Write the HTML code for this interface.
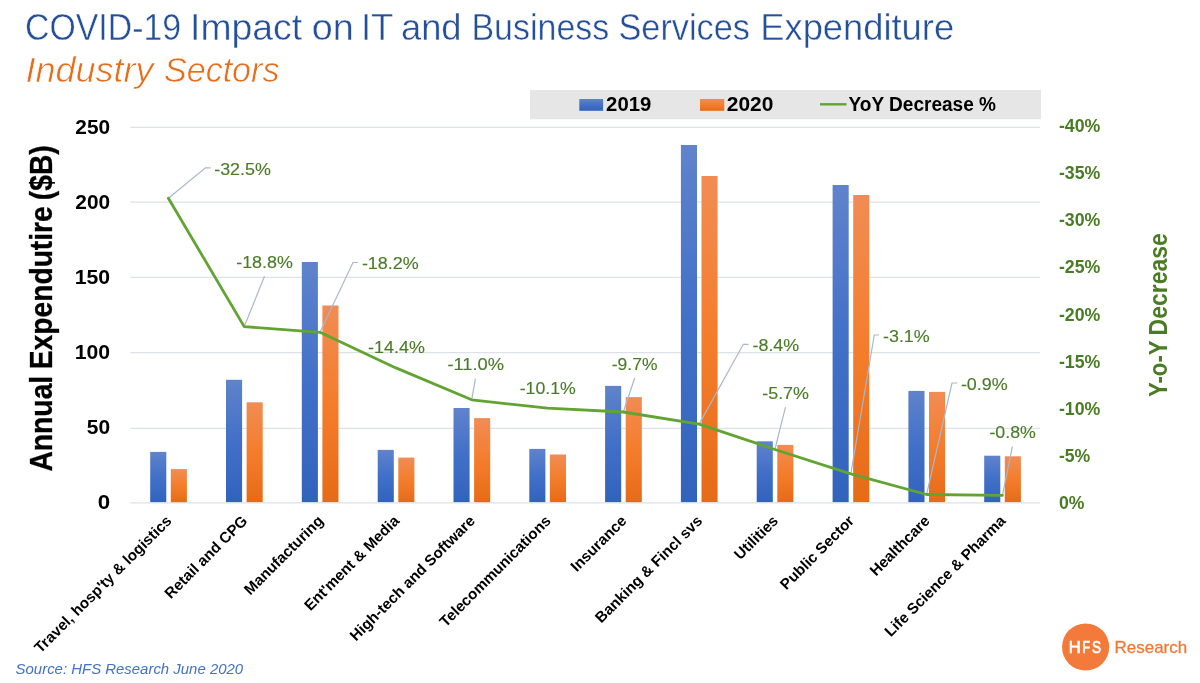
<!DOCTYPE html>
<html lang="en">
<head>
<meta charset="utf-8">
<title>COVID-19 Impact on IT and Business Services Expenditure</title>
<style>
html,body{margin:0;padding:0;background:#fff;}
body{width:1200px;height:683px;overflow:hidden;}
svg{display:block;font-family:"Liberation Sans", sans-serif;will-change:transform;}
</style>
</head>
<body>
<svg width="1200" height="683" viewBox="0 0 1200 683">
<defs>
<linearGradient id="gb" x1="0" y1="0" x2="0" y2="1"><stop offset="0" stop-color="#6083CB"/><stop offset="0.5" stop-color="#4170C8"/><stop offset="1" stop-color="#3263BC"/></linearGradient>
<linearGradient id="go" x1="0" y1="0" x2="0" y2="1"><stop offset="0" stop-color="#F18C54"/><stop offset="0.5" stop-color="#F47D2C"/><stop offset="1" stop-color="#E66B17"/></linearGradient>
</defs>
<rect width="1200" height="683" fill="#fff"/>
<text y="39.9" font-size="36.5" fill="#244F99" stroke="#fff" stroke-width="0.45"><tspan x="25.03" textLength="156.07" lengthAdjust="spacingAndGlyphs">COVID-19</tspan> <tspan x="190.06" textLength="111.97" lengthAdjust="spacingAndGlyphs">Impact</tspan> <tspan x="311.66" textLength="42.04" lengthAdjust="spacingAndGlyphs">on</tspan> <tspan x="360.94" textLength="31.88" lengthAdjust="spacingAndGlyphs">IT</tspan> <tspan x="400.96" textLength="60.64" lengthAdjust="spacingAndGlyphs">and</tspan> <tspan x="471.46" textLength="137.76" lengthAdjust="spacingAndGlyphs">Business</tspan> <tspan x="618.44" textLength="131.55" lengthAdjust="spacingAndGlyphs">Services</tspan> <tspan x="760.27" textLength="193.84" lengthAdjust="spacingAndGlyphs">Expenditure</tspan></text>
<text y="82.3" font-size="35" font-style="italic" fill="#E66E1A" stroke="#fff" stroke-width="0.6"><tspan x="25.58" textLength="127.91" lengthAdjust="spacingAndGlyphs">Industry</tspan> <tspan x="164.04" textLength="115.36" lengthAdjust="spacingAndGlyphs">Sectors</tspan></text>
<rect x="530" y="90" width="511" height="29.3" fill="#E7E6E6"/>
<rect x="579.3" y="99" width="23.8" height="11.8" fill="url(#gb)"/>
<rect x="700" y="99" width="24.3" height="11.8" fill="url(#go)"/>
<line x1="820" y1="104.3" x2="846.5" y2="104.3" stroke="#62A432" stroke-width="2.4"/>
<g font-size="19.5" font-weight="bold" fill="#000">
<text x="606.10" y="110.8" textLength="45.16" lengthAdjust="spacingAndGlyphs">2019</text>
<text x="726.77" y="110.8" textLength="46.58" lengthAdjust="spacingAndGlyphs">2020</text>
<text x="848.48" y="110.8" textLength="147.52" lengthAdjust="spacingAndGlyphs">YoY Decrease %</text>
</g>
<g stroke="#DDE2E9" stroke-width="1.3">
<line x1="130.3" y1="502.8" x2="1040.1" y2="502.8"/>
<line x1="130.3" y1="428.3" x2="1040.1" y2="428.3"/>
<line x1="130.3" y1="352.6" x2="1040.1" y2="352.6"/>
<line x1="130.3" y1="277.3" x2="1040.1" y2="277.3"/>
<line x1="130.3" y1="202.2" x2="1040.1" y2="202.2"/>
<line x1="130.3" y1="127.3" x2="1040.1" y2="127.3"/>
</g>
<g font-size="20" font-weight="bold" fill="#000">
<text x="97.82" y="509.2" textLength="12.40" lengthAdjust="spacingAndGlyphs">0</text>
<text x="86.86" y="434.1" textLength="23.30" lengthAdjust="spacingAndGlyphs">50</text>
<text x="74.76" y="359.0" textLength="35.41" lengthAdjust="spacingAndGlyphs">100</text>
<text x="74.76" y="283.9" textLength="35.41" lengthAdjust="spacingAndGlyphs">150</text>
<text x="75.38" y="208.8" textLength="34.78" lengthAdjust="spacingAndGlyphs">200</text>
<text x="75.38" y="133.7" textLength="34.78" lengthAdjust="spacingAndGlyphs">250</text>
</g>
<g font-size="18.2" font-weight="bold" fill="#4A7C24">
<text x="1058.90" y="508.7" textLength="25.46" lengthAdjust="spacingAndGlyphs">0%</text>
<text x="1058.91" y="461.6" textLength="31.35" lengthAdjust="spacingAndGlyphs">-5%</text>
<text x="1058.91" y="414.6" textLength="41.46" lengthAdjust="spacingAndGlyphs">-10%</text>
<text x="1058.91" y="367.5" textLength="41.46" lengthAdjust="spacingAndGlyphs">-15%</text>
<text x="1058.91" y="320.5" textLength="41.46" lengthAdjust="spacingAndGlyphs">-20%</text>
<text x="1058.91" y="273.4" textLength="41.46" lengthAdjust="spacingAndGlyphs">-25%</text>
<text x="1058.91" y="226.3" textLength="41.46" lengthAdjust="spacingAndGlyphs">-30%</text>
<text x="1058.91" y="179.3" textLength="41.46" lengthAdjust="spacingAndGlyphs">-35%</text>
<text x="1058.91" y="132.2" textLength="41.46" lengthAdjust="spacingAndGlyphs">-40%</text>
</g>
<text transform="translate(51.9,0) rotate(-90)" font-size="30.5" font-weight="bold" fill="#000" stroke="#000" stroke-width="0.3"><tspan x="-471.60" textLength="95.81" lengthAdjust="spacingAndGlyphs">Annual</tspan> <tspan x="-369.19" textLength="162.95" lengthAdjust="spacingAndGlyphs">Expendutire</tspan> <tspan x="-200.21" textLength="54.91" lengthAdjust="spacingAndGlyphs">($B)</tspan></text>
<text transform="translate(1167.1,0) rotate(-90)" font-size="25.3" font-weight="bold" fill="#4A7C24"><tspan x="-397.07" textLength="56.21" lengthAdjust="spacingAndGlyphs">Y-o-Y</tspan> <tspan x="-335.38" textLength="102.07" lengthAdjust="spacingAndGlyphs">Decrease</tspan></text>
<rect x="150.2" y="451.9" width="16.1" height="50.2" fill="url(#gb)"/>
<rect x="170.8" y="469.1" width="16.1" height="33.1" fill="url(#go)"/>
<rect x="226.0" y="379.8" width="16.1" height="122.3" fill="url(#gb)"/>
<rect x="246.6" y="402.3" width="16.1" height="99.8" fill="url(#go)"/>
<rect x="301.8" y="262.0" width="16.1" height="240.1" fill="url(#gb)"/>
<rect x="322.4" y="305.5" width="16.1" height="196.6" fill="url(#go)"/>
<rect x="377.7" y="449.9" width="16.1" height="52.2" fill="url(#gb)"/>
<rect x="398.3" y="457.6" width="16.1" height="44.5" fill="url(#go)"/>
<rect x="453.5" y="408.0" width="16.1" height="94.1" fill="url(#gb)"/>
<rect x="474.1" y="418.1" width="16.1" height="84.1" fill="url(#go)"/>
<rect x="529.3" y="448.9" width="16.1" height="53.2" fill="url(#gb)"/>
<rect x="549.9" y="454.5" width="16.1" height="47.6" fill="url(#go)"/>
<rect x="605.1" y="385.9" width="16.1" height="116.2" fill="url(#gb)"/>
<rect x="625.7" y="397.1" width="16.1" height="105.1" fill="url(#go)"/>
<rect x="680.9" y="145.0" width="16.1" height="357.1" fill="url(#gb)"/>
<rect x="701.5" y="176.0" width="16.1" height="326.1" fill="url(#go)"/>
<rect x="756.7" y="441.3" width="16.1" height="60.8" fill="url(#gb)"/>
<rect x="777.3" y="444.9" width="16.1" height="57.2" fill="url(#go)"/>
<rect x="832.6" y="185.0" width="16.1" height="317.1" fill="url(#gb)"/>
<rect x="853.2" y="195.0" width="16.1" height="307.1" fill="url(#go)"/>
<rect x="908.4" y="390.9" width="16.1" height="111.2" fill="url(#gb)"/>
<rect x="929.0" y="391.9" width="16.1" height="110.2" fill="url(#go)"/>
<rect x="984.2" y="455.7" width="16.1" height="46.4" fill="url(#gb)"/>
<rect x="1004.8" y="456.3" width="16.1" height="45.8" fill="url(#go)"/>
<g font-size="15.2" font-weight="bold" fill="#000" text-anchor="end">
<text transform="translate(172.6,521.8) rotate(-45)">Travel, hosp'ty &amp; logistics</text>
<text transform="translate(248.4,521.8) rotate(-45)">Retail and CPG</text>
<text transform="translate(324.2,521.8) rotate(-45)">Manufacturing</text>
<text transform="translate(400.1,521.8) rotate(-45)">Ent'ment &amp; Media</text>
<text transform="translate(475.9,521.8) rotate(-45)">High-tech and Software</text>
<text transform="translate(551.7,521.8) rotate(-45)">Telecommunications</text>
<text transform="translate(627.5,521.8) rotate(-45)">Insurance</text>
<text transform="translate(703.3,521.8) rotate(-45)">Banking &amp; Fincl svs</text>
<text transform="translate(779.1,521.8) rotate(-45)">Utilities</text>
<text transform="translate(855.0,521.8) rotate(-45)">Public Sector</text>
<text transform="translate(930.8,521.8) rotate(-45)">Healthcare</text>
<text transform="translate(1006.6,521.8) rotate(-45)">Life Science &amp; Pharma</text>
</g>
<g fill="none" stroke="#A9B7CC" stroke-width="1.2">
<polyline points="210.5,167.9 205.5,167.9 168.4,198.2"/>
<polyline points="264.5,276.3 244.2,326.6"/>
<polyline points="358.0,262.5 353.0,262.5 320.0,332.3"/>
<polyline points="475.4,378.7 471.7,399.8"/>
<polyline points="634.7,378.0 623.3,412.0"/>
<polyline points="748.5,344.3 743.3,344.3 699.1,424.1"/>
<polyline points="785.5,407.2 774.9,449.5"/>
<polyline points="879.0,335.0 874.3,335.0 850.8,473.8"/>
<polyline points="957.4,383.0 952.0,383.0 926.6,494.5"/>
<polyline points="1012.4,446.7 1002.4,495.4"/>
</g>
<polyline fill="none" stroke="#62A432" stroke-width="2.8" stroke-linejoin="round" stroke-linecap="round" points="168.4,198.2 244.2,326.6 320.0,332.3 395.9,367.9 471.7,399.8 547.5,408.2 623.3,412.0 699.1,424.1 774.9,449.5 850.8,473.8 926.6,494.5 1002.4,495.4"/>
<g font-size="17.2" fill="#4A7C28" stroke="#4A7C28" stroke-width="0.15">
<text x="214.20" y="174.5" textLength="56.73" lengthAdjust="spacingAndGlyphs">-32.5%</text>
<text x="236.21" y="268.4" textLength="56.63" lengthAdjust="spacingAndGlyphs">-18.8%</text>
<text x="361.90" y="269.4" textLength="56.84" lengthAdjust="spacingAndGlyphs">-18.2%</text>
<text x="368.10" y="353.3" textLength="56.73" lengthAdjust="spacingAndGlyphs">-14.4%</text>
<text x="447.40" y="370.0" textLength="56.73" lengthAdjust="spacingAndGlyphs">-11.0%</text>
<text x="519.71" y="393.6" textLength="56.12" lengthAdjust="spacingAndGlyphs">-10.1%</text>
<text x="611.82" y="369.8" textLength="45.60" lengthAdjust="spacingAndGlyphs">-9.7%</text>
<text x="752.51" y="350.5" textLength="46.73" lengthAdjust="spacingAndGlyphs">-8.4%</text>
<text x="762.20" y="398.9" textLength="46.84" lengthAdjust="spacingAndGlyphs">-5.7%</text>
<text x="883.01" y="341.6" textLength="46.73" lengthAdjust="spacingAndGlyphs">-3.1%</text>
<text x="960.90" y="390.4" textLength="46.84" lengthAdjust="spacingAndGlyphs">-0.9%</text>
<text x="989.41" y="438.2" textLength="46.42" lengthAdjust="spacingAndGlyphs">-0.8%</text>
</g>
<g font-size="15.4" font-style="italic" fill="#4472C4">
<text x="15.58" y="673.8" textLength="227.55" lengthAdjust="spacingAndGlyphs">Source: HFS Research June 2020</text>
</g>
<circle cx="1085.6" cy="647" r="23.6" fill="#F37A3A"/>
<text y="653.2" font-size="17.3" fill="#fff" stroke="#fff" stroke-width="0.7"><tspan x="1068.63" textLength="12.02" lengthAdjust="spacingAndGlyphs">H</tspan><tspan x="1082.39" textLength="7.50" lengthAdjust="spacingAndGlyphs">F</tspan><tspan x="1091.98" textLength="9.04" lengthAdjust="spacingAndGlyphs">S</tspan></text>
<g font-size="17" fill="#F27935" stroke="#F27935" stroke-width="0.3">
<text x="1114.61" y="653.0" textLength="72.49" lengthAdjust="spacingAndGlyphs">Research</text>
</g>
</svg>
</body>
</html>
